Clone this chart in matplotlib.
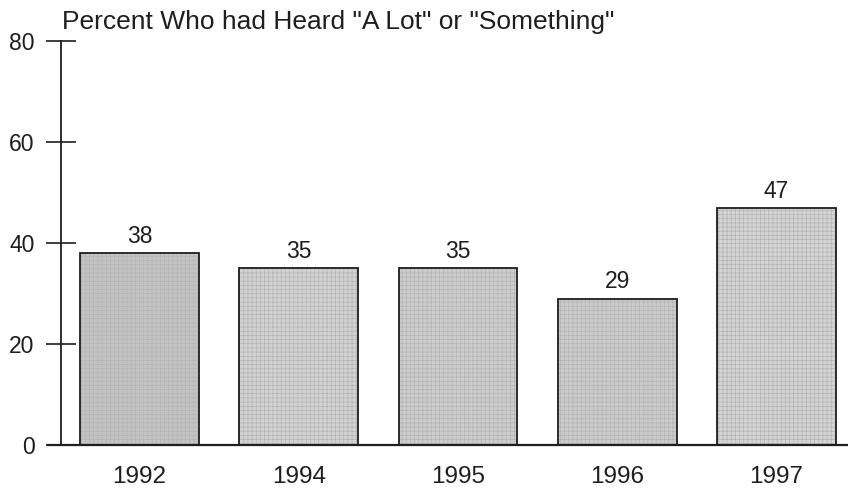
import matplotlib
matplotlib.use("Agg")
import matplotlib.pyplot as plt
import numpy as np

# survey years and share who had heard "a lot" or "something"
years = ["1992", "1994", "1995", "1996", "1997"]
percent = [38, 35, 35, 29, 47]
bar_fill = ["#c4c4c4", "#d2d2d2", "#cdcdcd", "#cbcbcb", "#d4d4d4"]
y_ticks = [0, 20, 40, 60, 80]
title = 'Percent Who had Heard "A Lot" or "Something"'

plt.rcParams["font.family"] = ["Liberation Sans", "DejaVu Sans"]
plt.rcParams["hatch.linewidth"] = 0.5

ink = "#1e1e1e"

fig = plt.figure(figsize=(8.48, 4.9), dpi=100)
ax = fig.add_axes([61 / 848, 45 / 490, 1 - 61 / 848, 404 / 490])

x = np.arange(len(years))
width = 0.747

# textured fill first, then the black outlines on top
ax.bar(x, percent, width=width, color=bar_fill, edgecolor="#b4b4b4",
       linewidth=0, hatch="++++", zorder=2)
ax.bar(x, percent, width=width, facecolor="none", edgecolor=ink,
       linewidth=1.3, zorder=3)

for xi, v in zip(x, percent):
    ax.text(xi, v + 2.0, str(v), ha="center", va="baseline",
            fontsize=16.5, color=ink)

ax.set_xlim(-0.493, 4.449)
ax.set_ylim(0, 80)
ax.set_xticks(x)
ax.set_xticklabels(years, fontsize=17.5, color=ink)
ax.set_yticks(y_ticks)
ax.set_yticklabels([str(t) for t in y_ticks], fontsize=16.5, color=ink)

ax.tick_params(axis="x", length=0, pad=15)
ax.tick_params(axis="y", direction="inout", length=22, width=1.2,
               color=ink, pad=8)

for side in ["top", "right"]:
    ax.spines[side].set_visible(False)
ax.spines["left"].set_color(ink)
ax.spines["left"].set_linewidth(1.3)
ax.spines["bottom"].set_color(ink)
ax.spines["bottom"].set_linewidth(1.6)
ax.spines["bottom"].set_bounds(-0.493 - 13 / 159.25, 4.449)
ax.spines["bottom"].set_clip_on(False)

fig.text(62 / 848, 1 - 29 / 490, title, ha="left", va="baseline",
         fontsize=19, color=ink)

fig.savefig("out.png", dpi=100, facecolor="white")
